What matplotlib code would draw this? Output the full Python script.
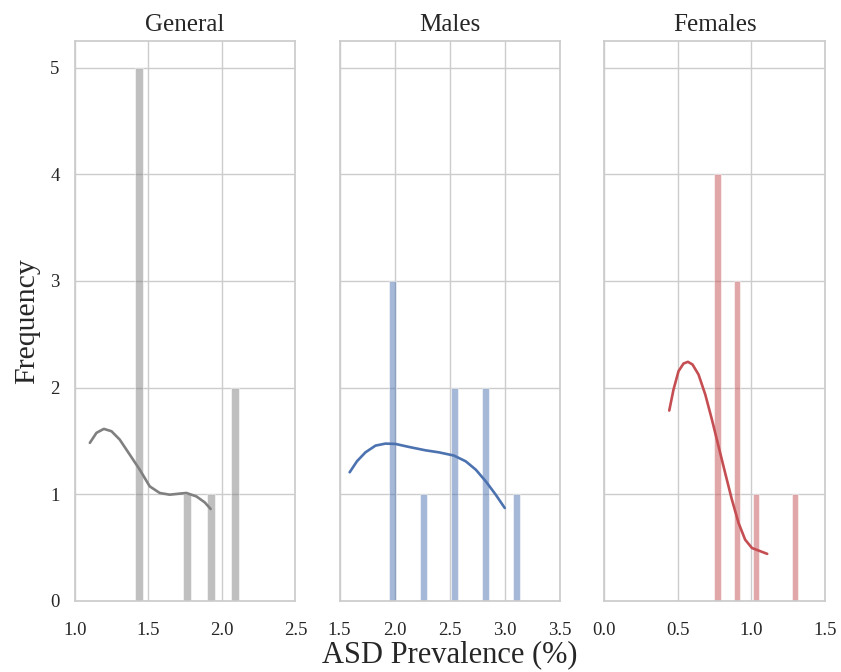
import matplotlib
matplotlib.use("Agg")
import matplotlib.pyplot as plt
import seaborn as sns

# histogram bins (left edge of each non-empty bin, count)
general_left = [1.407, 1.734, 1.898, 2.061]
general_count = [5, 1, 1, 2]
general_width = 0.0545

males_left = [1.945, 2.226, 2.507, 2.788, 3.069]
males_count = [3, 1, 2, 2, 1]
males_width = 0.0703

females_left = [0.747, 0.878, 1.010, 1.273]
females_count = [4, 3, 1, 1]
females_width = 0.0438

# kde curves as drawn
general_kde_x = [1.102, 1.147, 1.197, 1.249, 1.305, 1.373, 1.441, 1.509, 1.577,
                 1.645, 1.713, 1.758, 1.826, 1.883, 1.923]
general_kde_y = [1.481, 1.575, 1.612, 1.590, 1.512, 1.371, 1.230, 1.073, 1.011,
                 0.995, 1.005, 1.011, 0.979, 0.923, 0.861]

males_kde_x = [1.591, 1.657, 1.734, 1.825, 1.915, 2.006, 2.127, 2.279, 2.400,
               2.536, 2.643, 2.734, 2.825, 2.915, 2.997]
males_kde_y = [1.205, 1.308, 1.392, 1.455, 1.474, 1.471, 1.443, 1.411, 1.392,
               1.362, 1.308, 1.230, 1.120, 0.995, 0.870]

females_kde_x = [0.441, 0.470, 0.504, 0.538, 0.568, 0.599, 0.640, 0.686, 0.731,
                 0.776, 0.821, 0.867, 0.912, 0.957, 1.003, 1.050, 1.107]
females_kde_y = [1.784, 1.981, 2.153, 2.225, 2.241, 2.216, 2.122, 1.934, 1.700,
                 1.449, 1.199, 0.948, 0.730, 0.573, 0.495, 0.470, 0.440]

titles = ["General", "Males", "Females"]
xlims = [(1.0, 2.5), (1.5, 3.5), (0.0, 1.5)]
xticks = [[1.0, 1.5, 2.0, 2.5], [1.5, 2.0, 2.5, 3.0, 3.5], [0.0, 0.5, 1.0, 1.5]]

sns.set_theme(style="whitegrid")
plt.rcParams["font.family"] = ["Liberation Serif", "DejaVu Serif"]

fig, axes = plt.subplots(1, 3, figsize=(8.41, 6.72), dpi=100, sharey=True)
fig.subplots_adjust(left=0.089, right=0.981, bottom=0.106, top=0.939, wspace=0.2)

groups = [
    (general_left, general_count, general_width, general_kde_x, general_kde_y, "gray", "gray"),
    (males_left, males_count, males_width, males_kde_x, males_kde_y, "#4C72B0", "#4C72B0"),
    (females_left, females_count, females_width, females_kde_x, females_kde_y, "#C44E52", "#C44E52"),
]

for ax, g, title, xl, xt in zip(axes, groups, titles, xlims, xticks):
    left, count, width, kx, ky, bar_c, line_c = g
    ax.bar(left, count, width=width, align="edge", color=bar_c, alpha=0.5,
           edgecolor="white", linewidth=0.8)
    ax.plot(kx, ky, color=line_c, lw=1.9, solid_capstyle="round", solid_joinstyle="round")
    ax.set_xlim(*xl)
    ax.set_xticks(xt)
    ax.set_xticklabels([f"{v:.1f}" for v in xt], fontsize=13.5)
    ax.tick_params(axis="y", labelsize=13.5, pad=5)
    ax.tick_params(axis="x", pad=9)
    ax.set_title(title, fontsize=18, pad=7)
    for s in ax.spines.values():
        s.set_color("#cccccc")

axes[0].set_ylim(0, 5.25)
axes[0].set_yticks([0, 1, 2, 3, 4, 5])
axes[0].set_ylabel("Frequency", fontsize=21.5, labelpad=7)
axes[1].set_xlabel("ASD Prevalence (%)", fontsize=22, labelpad=1)

fig.savefig("out.png", dpi=100)
